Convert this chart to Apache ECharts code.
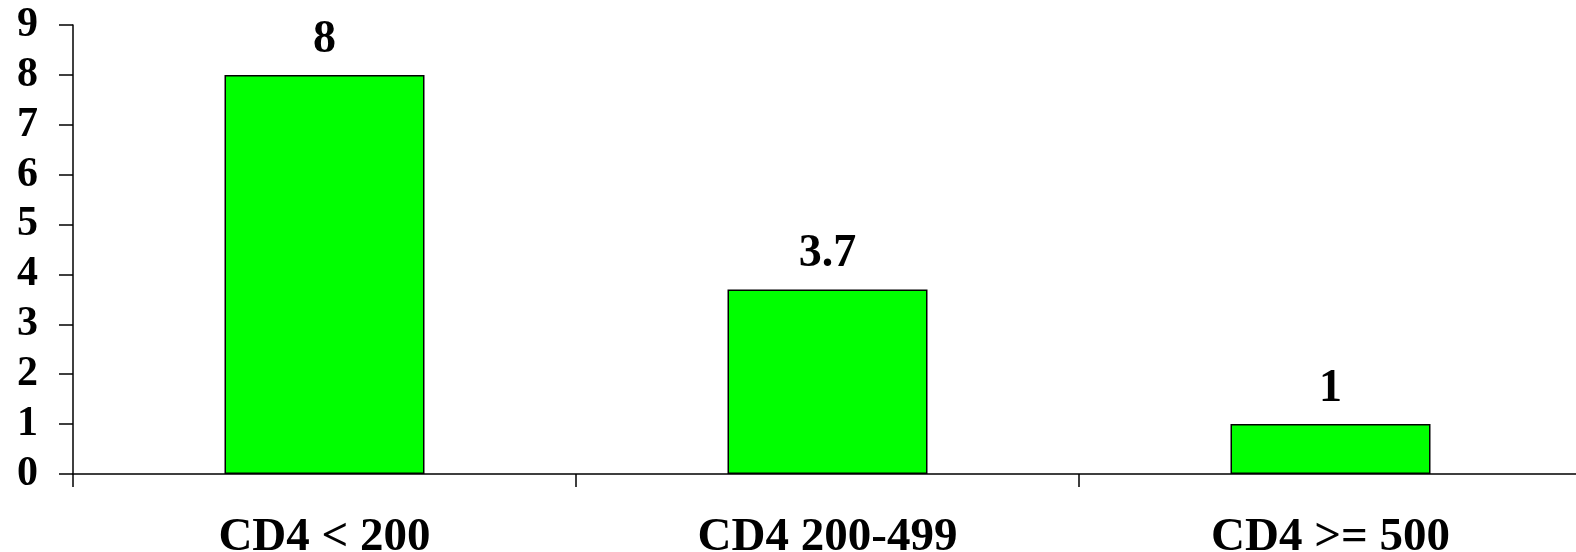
<!DOCTYPE html>
<html>
<head>
<meta charset="utf-8">
<script src="https://cdn.jsdelivr.net/npm/echarts@6/dist/echarts.min.js"></script>
<style>
  html, body { margin: 0; padding: 0; background: #ffffff; overflow: hidden; }
  #chart { width: 1576px; height: 552px; }
</style>
</head>
<body>
<div id="chart"></div>
<script>
// CD4 count groups and their values
const categories = ['CD4 < 200', 'CD4 200-499', 'CD4 >= 500'];
const values = [8, 3.7, 1];
const yTicks = { min: 0, max: 9, interval: 1 };

const FONT = '"Liberation Serif", "Times New Roman", serif';

const chart = echarts.init(document.getElementById('chart'), null, { renderer: 'canvas' });

chart.setOption({
  animation: false,
  backgroundColor: '#ffffff',
  grid: {
    left: 73, top: 25, bottom: 78, width: 1509,
    containLabel: false,
    outerBoundsMode: 'none'
  },
  xAxis: {
    type: 'category',
    data: categories,
    boundaryGap: true,
    axisLine: { show: true, lineStyle: { color: '#000', width: 1.5 } },
    axisTick: { show: true, alignWithLabel: false, length: 13, lineStyle: { color: '#000', width: 1.5 } },
    axisLabel: {
      color: '#000', fontFamily: FONT, fontWeight: 'bold', fontSize: 47,
      margin: 40, interval: 0
    },
    splitLine: { show: false }
  },
  yAxis: {
    type: 'value',
    min: yTicks.min, max: yTicks.max, interval: yTicks.interval,
    axisLine: { show: true, lineStyle: { color: '#000', width: 1.5 } },
    axisTick: { show: true, length: 14, lineStyle: { color: '#000', width: 1.5 } },
    axisLabel: {
      color: '#000', fontFamily: FONT, fontWeight: 'bold', fontSize: 42,
      margin: 35
    },
    splitLine: { show: false }
  },
  series: [{
    type: 'bar',
    data: values,
    barWidth: 200,
    itemStyle: { color: '#00ff00', borderColor: '#000', borderWidth: 1.5 },
    label: {
      show: true, position: 'top', distance: 12,
      color: '#000', fontFamily: FONT, fontWeight: 'bold', fontSize: 46
    }
  }]
});
</script>
</body>
</html>
